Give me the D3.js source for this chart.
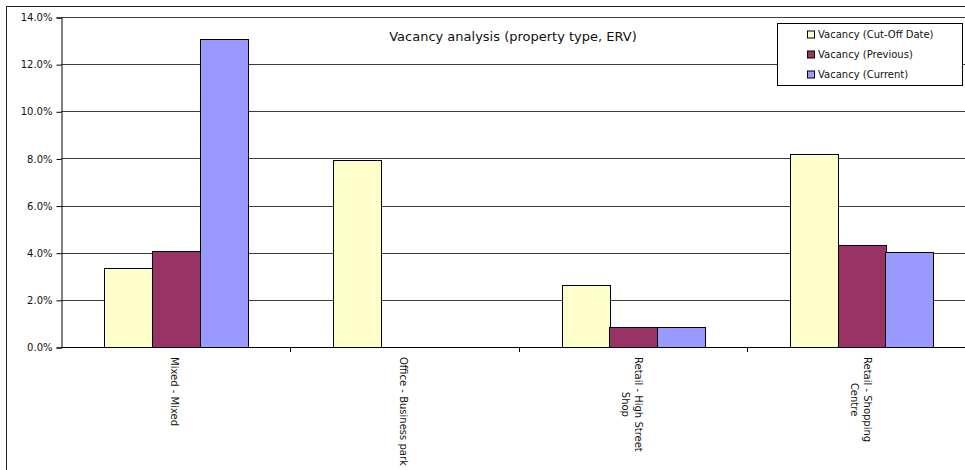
<!DOCTYPE html>
<html>
<head>
<meta charset="utf-8">
<script src="https://cdn.jsdelivr.net/npm/d3@7/dist/d3.min.js"></script>
<style>
  html, body { margin: 0; padding: 0; background: #fff; }
  svg { display: block; font-family: "DejaVu Sans", Verdana, sans-serif; }
</style>
</head>
<body>
<svg id="chart" width="965" height="470"></svg>
<script>
// Vacancy by property type, three measurement dates
const categories = [
  ["Mixed - Mixed"],
  ["Office - Business park"],
  ["Retail - High Street", "Shop"],
  ["Retail - Shopping", "Centre"]
];
const seriesNames = ["Vacancy (Cut-Off Date)", "Vacancy (Previous)", "Vacancy (Current)"];
const cutOffValues = [0.0337, 0.0792, 0.0263, 0.0817];
const previousValues = [0.0408, 0, 0.0085, 0.0432];
const currentValues = [0.1306, 0, 0.0083, 0.0403];
const seriesColors = ["#FFFFCC", "#993366", "#9999FF"];
const yTicks = [0, 0.02, 0.04, 0.06, 0.08, 0.10, 0.12, 0.14];
const titleText = "Vacancy analysis (property type, ERV)";

const svg = d3.select("#chart");
const W = 965, H = 470;

// Outer chart border (extends past the visible frame on the right and bottom)
svg.append("rect")
  .attr("x", 6.5).attr("y", 6.5)
  .attr("width", 1000).attr("height", 600)
  .attr("fill", "#fff").attr("stroke", "#222").attr("stroke-width", 1);

const plotLeft = 61.5, plotTop = 17, plotBottom = 347;
const catStep = 228.6;
const catKeys = categories.map(c => c.join(" "));

const x0 = d3.scaleBand().domain(catKeys)
  .range([plotLeft, plotLeft + catStep * catKeys.length]).padding(0);
const x1 = d3.scaleBand().domain(seriesNames)
  .range([0, x0.bandwidth()]).paddingInner(0).paddingOuter(0.9);
const y = d3.scaleLinear().domain([0, 0.14]).range([plotBottom, plotTop]);

// Horizontal gridlines
svg.append("g").selectAll("line")
  .data(yTicks.filter(t => t > 0))
  .join("line")
  .attr("x1", plotLeft).attr("x2", W)
  .attr("y1", d => Math.round(y(d)) + 0.5).attr("y2", d => Math.round(y(d)) + 0.5)
  .attr("stroke", "#3a3a3a").attr("stroke-width", 1);

// Y axis
const yAxis = d3.axisLeft(y).tickValues(yTicks)
  .tickFormat(d3.format(".1%")).tickSize(5).tickPadding(4);
const yg = svg.append("g")
  .attr("transform", `translate(${plotLeft},0.5)`)
  .call(yAxis);
yg.select(".domain").attr("stroke", "#000");
yg.selectAll(".tick line").attr("stroke", "#000");
yg.selectAll(".tick text")
  .attr("font-family", "DejaVu Sans, sans-serif")
  .attr("font-size", 10).attr("fill", "#111");

// Bars
const seriesValues = [cutOffValues, previousValues, currentValues];
const rows = [];
catKeys.forEach((k, i) => {
  seriesNames.forEach((s, j) => {
    rows.push({ cat: k, series: s, value: seriesValues[j][i], color: seriesColors[j] });
  });
});
svg.append("g").selectAll("rect")
  .data(rows.filter(d => d.value > 0))
  .join("rect")
  .attr("x", d => Math.round(x0(d.cat) + x1(d.series)) + 0.5)
  .attr("y", d => Math.round(y(d.value)) + 0.5)
  .attr("width", Math.round(x1.bandwidth()))
  .attr("height", d => Math.round(y(0)) - Math.round(y(d.value)))
  .attr("fill", d => d.color)
  .attr("stroke", "#000").attr("stroke-width", 1);

// X axis line and category boundary ticks
const xg = svg.append("g");
xg.append("line")
  .attr("x1", plotLeft).attr("x2", W)
  .attr("y1", plotBottom + 0.5).attr("y2", plotBottom + 0.5)
  .attr("stroke", "#000");
xg.selectAll(".bt")
  .data(catKeys.slice(1))
  .join("line")
  .attr("x1", d => Math.round(x0(d)) + 0.5).attr("x2", d => Math.round(x0(d)) + 0.5)
  .attr("y1", plotBottom).attr("y2", plotBottom + 5)
  .attr("stroke", "#000");

// Rotated category labels
const labelTop = 357, lineH = 13;
categories.forEach((lines, i) => {
  const cx = x0(catKeys[i]) + x0.bandwidth() / 2 - 1;
  const g = svg.append("g")
    .attr("transform", `translate(${cx},${labelTop}) rotate(90)`);
  const texts = lines.map((ln, k) => g.append("text")
    .attr("font-size", 10).attr("fill", "#111")
    .attr("dominant-baseline", "central")
    .attr("text-anchor", "middle")
    .attr("y", (k - (lines.length - 1) / 2) * lineH)
    .text(ln));
  const maxLen = d3.max(texts, t => t.node().getComputedTextLength());
  texts.forEach(t => t.attr("x", maxLen / 2));
});

// Title
svg.append("text")
  .attr("x", 513).attr("y", 41)
  .attr("text-anchor", "middle")
  .attr("font-size", 13).attr("fill", "#111")
  .text(titleText);

// Legend
const lg = svg.append("g");
lg.append("rect")
  .attr("x", 777.5).attr("y", 23.5).attr("width", 185).attr("height", 62)
  .attr("fill", "#fff").attr("stroke", "#000");
seriesNames.forEach((s, j) => {
  const cy = 34.5 + j * 20;
  lg.append("rect")
    .attr("x", 807.5).attr("y", cy - 3.5).attr("width", 7).attr("height", 7)
    .attr("fill", seriesColors[j]).attr("stroke", "#000");
  lg.append("text")
    .attr("x", 818).attr("y", cy)
    .attr("dominant-baseline", "central")
    .attr("font-size", 10).attr("fill", "#111")
    .text(s);
});
</script>
</body>
</html>
